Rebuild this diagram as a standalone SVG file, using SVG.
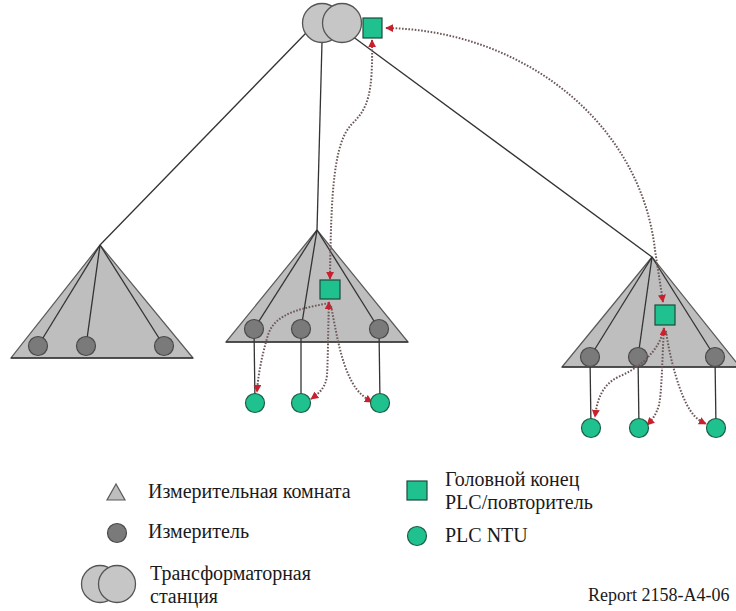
<svg xmlns="http://www.w3.org/2000/svg" width="736" height="611" viewBox="0 0 736 611">
<style>
.tri{fill:#bebebe;stroke:#5a5a5a;stroke-width:1.2}
.base{stroke:#333;stroke-width:1.5}
.wire{stroke:#333;stroke-width:1.3;fill:none}
.meter{fill:#7a7a7a;stroke:#4a4a4a;stroke-width:1.2}
.ntu{fill:#1fc28f;stroke:#1d5e46;stroke-width:1.2}
.head{fill:#1fc28f;stroke:#1d4a3a;stroke-width:1.2}
.tr{fill:#c6c6c6;stroke:#555;stroke-width:1.3}
.comm{fill:none;stroke:#6d5858;stroke-width:2;stroke-dasharray:1.6 1.6}
.lbl{font-family:"Liberation Serif","Times New Roman",serif;font-size:20px;fill:#1a1a1a}
.rep{font-family:"Liberation Serif","Times New Roman",serif;font-size:18px;fill:#1a1a1a}
</style>
<defs>
<marker id="arr" viewBox="0 0 10 10" refX="9" refY="5" markerWidth="8" markerHeight="8" markerUnits="userSpaceOnUse" orient="auto-start-reverse">
<path d="M0,0 L10,5 L0,10 Z" fill="#c8202c"/>
</marker>
</defs>

<g id="feeders">
<line class="wire" x1="306" y1="33" x2="100" y2="245"/>
<line class="wire" x1="322" y1="42" x2="317" y2="230"/>
<line class="wire" x1="352" y1="36" x2="652" y2="257"/>
</g>

<g id="transformer">
<circle class="tr" cx="322" cy="23" r="19.5"/>
<circle class="tr" cx="342" cy="23" r="19.5"/>
</g>

<g id="room-left">
<polygon class="tri" points="100,245 11,358 193,358"/>
<line class="base" x1="11" y1="358" x2="193" y2="358"/>
<line class="wire" x1="100" y1="245" x2="38" y2="346"/>
<line class="wire" x1="100" y1="245" x2="86" y2="346"/>
<line class="wire" x1="100" y1="245" x2="164" y2="346"/>
<circle class="meter" cx="38" cy="346" r="9.5"/>
<circle class="meter" cx="86" cy="346" r="9.5"/>
<circle class="meter" cx="164" cy="346" r="9.5"/>
</g>

<g id="room-middle">
<polygon class="tri" points="317,230 226,342 408,342"/>
<line class="base" x1="226" y1="342" x2="408" y2="342"/>
<line class="wire" x1="317" y1="230" x2="254" y2="329"/>
<line class="wire" x1="317" y1="230" x2="301" y2="329"/>
<line class="wire" x1="317" y1="230" x2="379" y2="329"/>
<line class="wire" x1="254" y1="329" x2="255" y2="403"/>
<line class="wire" x1="301" y1="329" x2="301" y2="403"/>
<line class="wire" x1="379" y1="329" x2="380" y2="403"/>
<circle class="meter" cx="254" cy="329" r="9.5"/>
<circle class="meter" cx="301" cy="329" r="9.5"/>
<circle class="meter" cx="379" cy="329" r="9.5"/>
</g>

<g id="room-right">
<polygon class="tri" points="652,257 562,367 740,367"/>
<line class="base" x1="562" y1="367" x2="740" y2="367"/>
<line class="wire" x1="652" y1="257" x2="590" y2="357"/>
<line class="wire" x1="652" y1="257" x2="638" y2="357"/>
<line class="wire" x1="652" y1="257" x2="715" y2="357"/>
<line class="wire" x1="590" y1="357" x2="591" y2="428"/>
<line class="wire" x1="638" y1="357" x2="639" y2="428"/>
<line class="wire" x1="715" y1="357" x2="716" y2="428"/>
<circle class="meter" cx="590" cy="357" r="9.5"/>
<circle class="meter" cx="638" cy="357" r="9.5"/>
<circle class="meter" cx="715" cy="357" r="9.5"/>
</g>

<g id="connectors">
<path class="comm" marker-start="url(#arr)" marker-end="url(#arr)" d="M386,28 C520,30 640,120 655,250 L663,302"/>
<path class="comm" marker-start="url(#arr)" marker-end="url(#arr)" d="M372,40 C373,95 368,108 352,124 C334,142 331,190 330,279"/>
<path class="comm" d="M329,303 C305,308 275,312 268,335 C262,355 258,375 257,392" marker-end="url(#arr)"/>
<path class="comm" marker-start="url(#arr)" marker-end="url(#arr)" d="M329,302 C328,330 328,360 327,375 C326,388 318,394 311,399"/>
<path class="comm" marker-end="url(#arr)" d="M331,306 C336,330 340,360 352,382 C358,393 365,398 372,402"/>
<path class="comm" marker-end="url(#arr)" d="M664,328 C660,350 640,368 618,377 C602,385 597,400 595,417"/>
<path class="comm" marker-start="url(#arr)" marker-end="url(#arr)" d="M664,328 C662,360 662,390 659,405 C656,415 652,420 647,425"/>
<path class="comm" marker-end="url(#arr)" d="M666,331 C670,360 680,395 690,410 C695,418 700,421 706,424"/>
</g>

<g id="head-main"><rect class="head" x="363" y="18" width="19" height="20"/></g>
<g id="head-middle"><rect class="head" x="320" y="280" width="20" height="19"/></g>
<g id="head-right"><rect class="head" x="655" y="305" width="20" height="20"/></g>

<g id="ntu-middle">
<circle class="ntu" cx="255" cy="403" r="9.5"/>
<circle class="ntu" cx="301" cy="403" r="9.5"/>
<circle class="ntu" cx="380" cy="403" r="9.5"/>
</g>
<g id="ntu-right">
<circle class="ntu" cx="591" cy="428" r="9.5"/>
<circle class="ntu" cx="639" cy="428" r="9.5"/>
<circle class="ntu" cx="716" cy="428" r="9.5"/>
</g>

<g id="legend">
<polygon class="tri" points="116,484 107,500 125,500"/>
<text class="lbl" x="148" y="498">Измерительная комната</text>
<circle class="meter" cx="117" cy="533" r="9.5"/>
<text class="lbl" x="148" y="538">Измеритель</text>
<circle class="tr" cx="100" cy="584" r="18.5"/>
<circle class="tr" cx="117" cy="584" r="18.5"/>
<text class="lbl" x="150" y="580">Трансформаторная</text>
<text class="lbl" x="150" y="603">станция</text>
<rect class="head" x="407" y="481" width="20" height="19"/>
<text class="lbl" x="445" y="486">Головной конец</text>
<text class="lbl" x="445" y="509">PLC/повторитель</text>
<circle class="ntu" cx="417" cy="536" r="9.5"/>
<text class="lbl" x="445" y="542">PLC NTU</text>
<text class="rep" x="588" y="601">Report 2158-A4-06</text>
</g>
</svg>
